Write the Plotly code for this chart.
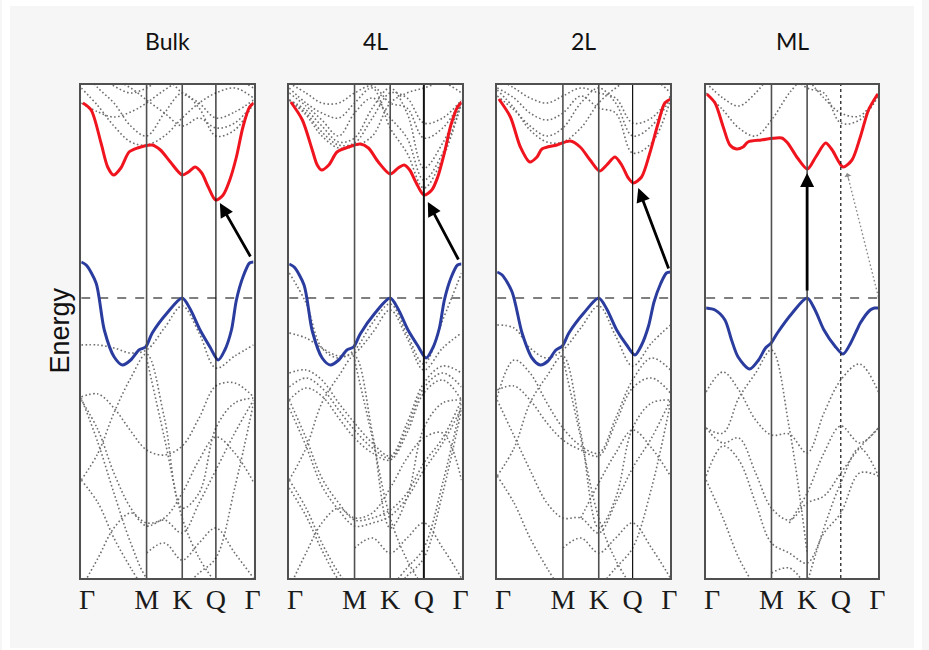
import plotly.graph_objects as go

# ---------------- data ----------------
PANEL_TITLES = ["Bulk", "4L", "2L", "ML"]
K_TICKS = [0.0, 0.66, 1.02, 1.36, 1.74]
K_TICKTEXT = ["Γ", "M", "K", "Q", "Γ"]
K_GRID = [0.0, 0.17, 0.33, 0.5, 0.66, 0.84, 1.02, 1.19, 1.36, 1.55, 1.74]
E_RANGE = [-2.80, 2.13]

# lowest conduction band (red)
BULK_CB_K = [0.017, 0.10, 0.20, 0.267, 0.327, 0.40, 0.483, 0.567, 0.717, 0.80, 0.90, 1.02, 1.083, 1.15, 1.217, 1.283, 1.357, 1.433, 1.50, 1.567, 1.633, 1.70, 1.743]
BULK_CB_E = [1.95, 1.88, 1.55, 1.31, 1.23, 1.30, 1.46, 1.50, 1.53, 1.48, 1.36, 1.23, 1.26, 1.31, 1.25, 1.11, 0.98, 1.03, 1.18, 1.41, 1.71, 1.91, 1.95]
FOURL_CB_K = [0.017, 0.133, 0.233, 0.283, 0.327, 0.40, 0.483, 0.60, 0.717, 0.80, 0.90, 1.02, 1.10, 1.16, 1.217, 1.283, 1.36, 1.44, 1.50, 1.567, 1.633, 1.70, 1.743]
FOURL_CB_E = [1.96, 1.78, 1.48, 1.33, 1.28, 1.33, 1.46, 1.51, 1.54, 1.50, 1.36, 1.24, 1.30, 1.33, 1.28, 1.15, 1.03, 1.08, 1.21, 1.45, 1.73, 1.91, 1.96]
TWOL_CB_K = [0.017, 0.133, 0.233, 0.327, 0.40, 0.45, 0.60, 0.733, 0.833, 0.933, 1.027, 1.10, 1.183, 1.25, 1.317, 1.367, 1.45, 1.533, 1.617, 1.683, 1.743]
TWOL_CB_E = [1.99, 1.81, 1.51, 1.36, 1.41, 1.49, 1.53, 1.57, 1.51, 1.38, 1.27, 1.33, 1.41, 1.33, 1.20, 1.15, 1.21, 1.45, 1.75, 1.95, 1.99]
ML_CB_K = [0.007, 0.09, 0.173, 0.24, 0.307, 0.373, 0.423, 0.557, 0.763, 0.823, 0.923, 1.023, 1.107, 1.207, 1.273, 1.383, 1.473, 1.557, 1.64, 1.733]
ML_CB_E = [2.04, 1.95, 1.71, 1.53, 1.49, 1.51, 1.56, 1.58, 1.60, 1.55, 1.40, 1.29, 1.41, 1.55, 1.48, 1.31, 1.38, 1.61, 1.88, 2.04]

# highest valence band (blue)
BULK_VB_K = [0.0, 0.05, 0.15, 0.233, 0.333, 0.417, 0.50, 0.583, 0.65, 0.717, 0.867, 1.02, 1.10, 1.20, 1.30, 1.383, 1.45, 1.517, 1.567, 1.633, 1.70, 1.74]
BULK_VB_E = [0.36, 0.33, 0.15, -0.32, -0.59, -0.67, -0.62, -0.52, -0.49, -0.35, -0.15, 0.0, -0.11, -0.32, -0.49, -0.62, -0.52, -0.32, -0.02, 0.21, 0.35, 0.36]
FOURL_VB_K = [0.0, 0.05, 0.15, 0.233, 0.333, 0.417, 0.50, 0.583, 0.65, 0.717, 0.867, 1.02, 1.10, 1.20, 1.30, 1.383, 1.45, 1.517, 1.567, 1.633, 1.70, 1.74]
FOURL_VB_E = [0.34, 0.31, 0.13, -0.33, -0.60, -0.67, -0.62, -0.52, -0.49, -0.36, -0.15, 0.0, -0.11, -0.32, -0.48, -0.60, -0.50, -0.30, -0.02, 0.20, 0.33, 0.34]
TWOL_VB_K = [0.0, 0.05, 0.15, 0.25, 0.35, 0.433, 0.51, 0.59, 0.655, 0.72, 0.87, 1.02, 1.10, 1.20, 1.30, 1.383, 1.45, 1.52, 1.575, 1.64, 1.70, 1.74]
TWOL_VB_E = [0.26, 0.23, 0.06, -0.35, -0.60, -0.67, -0.63, -0.52, -0.48, -0.35, -0.15, 0.0, -0.11, -0.32, -0.47, -0.57, -0.47, -0.28, -0.04, 0.14, 0.25, 0.26]
ML_VB_K = [0.0, 0.09, 0.19, 0.257, 0.323, 0.44, 0.53, 0.60, 0.657, 0.72, 0.87, 1.02, 1.10, 1.19, 1.30, 1.383, 1.46, 1.523, 1.557, 1.657, 1.70, 1.74]
ML_VB_E = [-0.10, -0.12, -0.22, -0.42, -0.59, -0.71, -0.62, -0.50, -0.45, -0.35, -0.15, 0.0, -0.12, -0.32, -0.48, -0.56, -0.45, -0.32, -0.25, -0.12, -0.10, -0.10]

# other bands (gray dotted), energies on K_GRID
BULK_GRAY_CB = [
    [2.10, 1.92, 1.72, 1.56, 1.53, 1.62, 1.80, 1.95, 2.05, 2.10, 2.00],
    [1.95, 1.86, 1.81, 1.86, 1.95, 2.08, 2.18, 2.20, 2.25, 2.20, 2.10],
    [2.30, 2.10, 1.95, 1.72, 1.62, 1.85, 2.05, 1.90, 1.62, 1.68, 1.95],
    [2.20, 2.20, 2.18, 2.10, 1.98, 1.85, 1.72, 1.80, 1.70, 1.75, 1.95],
    [2.30, 2.22, 2.12, 2.05, 2.10, 2.20, 2.05, 1.95, 1.80, 1.86, 1.98],
]
BULK_GRAY_VB = [
    [-0.47, -0.47, -0.50, -0.55, -0.52, -0.30, -0.08, -0.35, -0.70, -0.58, -0.47],
    [-0.99, -0.96, -1.10, -1.33, -1.52, -1.57, -1.48, -1.20, -0.88, -0.85, -0.99],
    [-1.82, -1.55, -1.15, -0.80, -0.56, -1.20, -2.10, -1.95, -1.30, -1.05, -1.00],
    [-1.02, -1.32, -1.75, -2.10, -2.28, -2.22, -2.35, -2.05, -1.72, -1.35, -1.02],
    [-1.82, -2.05, -2.40, -2.70, -2.95, None, None, None, None, None, None],
    [-2.90, -2.60, -2.30, -2.15, -2.25, -2.20, -1.95, -1.62, -1.39, -1.55, -1.84],
    [None, None, None, None, None, None, -2.90, -2.75, -2.60, -1.90, -1.05],
    [-1.00, -1.45, -1.95, -2.45, -2.80, -2.95, None, None, None, None, None],
    [None, None, None, None, -2.55, -2.45, -2.62, -2.45, -2.30, -2.55, -2.80],
    [None, None, None, None, -0.60, -1.40, -2.20, -2.60, -2.85, None, None],
]
FOURL_GRAY_CB = [
    [1.98, 1.83, 1.62, 1.50, 1.52, 1.62, 1.95, 2.05, 2.10, 2.15, 2.05],
    [1.98, 1.85, 1.66, 1.53, 1.55, 1.80, 2.05, 2.00, 1.75, 1.80, 1.98],
    [1.98, 1.88, 1.72, 1.56, 1.60, 1.90, 2.10, 1.85, 1.30, 1.55, 1.96],
    [2.05, 1.92, 1.78, 1.62, 1.85, 2.00, 1.80, 1.60, 1.18, 1.45, 1.95],
    [2.10, 1.95, 1.85, 1.80, 1.95, 2.10, 1.70, 1.45, 1.10, 1.40, 1.95],
    [2.15, 2.05, 1.95, 1.95, 2.05, 2.12, 1.95, 1.90, 1.60, 1.70, 1.98],
]
FOURL_GRAY_VB = [
    [0.25, -0.05, -0.50, -0.60, -0.52, -0.25, -0.06, -0.36, -0.66, -0.22, 0.25],
    [-0.35, -0.40, -0.50, -0.58, -0.55, -0.35, -0.12, -0.40, -0.72, -0.50, -0.35],
    [-0.75, -0.72, -0.82, -1.05, -1.25, -1.45, -1.58, -1.25, -0.85, -0.68, -0.75],
    [-0.89, -0.80, -0.90, -1.12, -1.32, -1.50, -1.60, -1.30, -0.90, -0.75, -0.89],
    [-1.02, -0.90, -0.98, -1.20, -1.40, -1.55, -1.62, -1.35, -0.95, -0.82, -1.02],
    [-1.82, -1.50, -1.05, -0.78, -0.58, -1.35, -2.30, -2.00, -1.30, -1.05, -1.02],
    [-1.02, -1.40, -1.80, -2.05, -2.22, -2.20, -2.12, -1.95, -1.65, -1.40, -1.02],
    [-1.10, -1.48, -1.88, -2.12, -2.28, -2.25, -2.18, -2.00, -1.72, -1.45, -1.10],
    [-2.90, -2.55, -2.25, -2.10, -2.20, -2.15, -1.90, -1.60, -1.40, -1.35, -1.82],
    [-1.82, -2.10, -2.45, -2.75, -2.95, None, None, None, None, None, None],
    [-1.90, -2.18, -2.52, -2.82, -2.98, None, None, None, None, None, None],
    [None, None, None, None, None, None, -2.90, -2.70, -2.50, -1.85, -1.05],
    [None, None, None, None, None, None, -2.95, -2.78, -2.60, -1.95, -1.12],
    [None, None, None, None, -2.50, -2.40, -2.55, -2.40, -2.25, -2.50, -2.80],
    [None, None, None, None, -0.62, -1.40, -2.20, -2.62, -2.90, None, None],
]
TWOL_GRAY_CB = [
    [2.08, 1.90, 1.68, 1.56, 1.56, 1.70, 1.95, 2.10, 2.20, 2.20, 2.05],
    [2.02, 1.88, 1.72, 1.62, 1.70, 1.95, 2.10, 1.95, 1.62, 1.72, 2.00],
    [2.10, 2.00, 1.85, 1.78, 1.85, 2.02, 1.90, 1.85, 1.45, 1.55, 1.98],
    [2.20, 2.10, 2.00, 1.95, 2.02, 2.10, 2.05, 2.00, 1.75, 1.80, 2.02],
]
TWOL_GRAY_VB = [
    [-0.27, -0.30, -0.50, -0.60, -0.52, -0.30, -0.08, -0.38, -0.68, -0.45, -0.27],
    [-0.99, -0.62, -0.75, -1.05, -1.30, -1.48, -1.55, -1.20, -0.82, -0.60, -0.72],
    [-0.92, -0.88, -1.02, -1.25, -1.42, -1.52, -1.58, -1.25, -0.90, -0.80, -0.95],
    [-1.78, -1.50, -1.05, -0.78, -0.58, -1.35, -2.30, -2.00, -1.30, -1.05, -1.02],
    [-1.02, -1.38, -1.72, -2.05, -2.20, -2.20, -2.35, -2.05, -1.70, -1.40, -1.02],
    [None, None, None, None, None, -2.20, -1.85, -1.55, -1.32, -1.50, -1.78],
    [-1.78, -2.05, -2.40, -2.70, -2.95, None, None, None, None, None, None],
    [None, None, None, None, None, None, -2.90, -2.70, -2.50, -1.90, -1.05],
    [None, None, None, None, -2.50, -2.40, -2.55, -2.40, -2.25, -2.50, -2.80],
    [None, None, None, None, -0.60, -1.40, -2.20, -2.62, -2.90, None, None],
]
ML_GRAY_CB = [
    [2.05, 1.88, 1.70, 1.62, 1.78, 2.05, 2.25, None, None, None, None],
    [2.15, 2.00, 1.92, 2.05, 2.25, None, None, None, None, None, None],
    [None, None, None, None, None, 2.25, 2.10, 2.05, 1.75, 1.78, 2.02],
    [None, None, None, None, None, None, 2.20, 2.00, 1.85, 1.82, 2.05],
]
ML_GRAY_VB = [
    [-0.94, -0.74, -0.92, -1.22, -1.37, -1.36, -1.55, -1.15, -0.82, -0.66, -0.94],
    [-1.30, -1.35, -1.00, -0.75, -0.52, -1.30, -2.55, None, None, None, None],
    [-1.30, -1.45, -1.40, -1.75, -2.10, -2.22, -2.05, -1.98, -1.75, -1.50, -1.30],
    [-1.78, -1.48, -1.62, -2.05, -2.45, -2.55, -2.65, -2.35, -2.15, -1.75, -1.78],
    [None, None, None, None, None, -2.25, -1.95, -1.55, -1.28, -1.45, -1.30],
    [None, None, None, None, None, None, -2.85, -2.30, -1.85, -1.50, -1.78],
    [-1.82, -2.20, -2.60, -2.90, None, None, None, None, None, None, None],
    [None, None, None, None, -2.75, -2.70, -2.90, None, None, None, None],
]

# transitions: (k_from, E_from, k_to, E_to)
BULK_ARROW = [1.717, 0.40, 1.40, 0.95]
FOURL_ARROW = [1.717, 0.37, 1.40, 0.96]
TWOL_ARROW = [1.727, 0.28, 1.417, 1.10]
ML_ARROW = [1.02, 0.06, 1.02, 1.25]
ML_INDIRECT = [1.74, 0.01, 1.423, 1.25]

# ---------------- figure ----------------
W, H = 929, 650
PANEL_PX = [(80, 254), (290, 464), (500, 675), (711, 885)]
TOP_PX, BOT_PX = 85, 578

panels = [
    (BULK_CB_K, BULK_CB_E, BULK_VB_K, BULK_VB_E, BULK_GRAY_CB, BULK_GRAY_VB, BULK_ARROW),
    (FOURL_CB_K, FOURL_CB_E, FOURL_VB_K, FOURL_VB_E, FOURL_GRAY_CB, FOURL_GRAY_VB, FOURL_ARROW),
    (TWOL_CB_K, TWOL_CB_E, TWOL_VB_K, TWOL_VB_E, TWOL_GRAY_CB, TWOL_GRAY_VB, TWOL_ARROW),
    (ML_CB_K, ML_CB_E, ML_VB_K, ML_VB_E, ML_GRAY_CB, ML_GRAY_VB, ML_ARROW),
]

fig = go.Figure()
layout = dict(
    width=W, height=H,
    margin=dict(l=0, r=0, t=0, b=0),
    paper_bgcolor="#f6f6f6",
    plot_bgcolor="#ffffff",
    showlegend=False,
    shapes=[], annotations=[],
)

GRAY = "#6e6e6e"
DOTS = "1.6px,2.4px"
for i, (ck, ce, vk, ve, gcb, gvb, arr) in enumerate(panels):
    n = "" if i == 0 else str(i + 1)
    xa, ya = "x" + n, "y" + n
    x0, x1 = PANEL_PX[i]
    layout["xaxis" + n] = dict(
        domain=[x0 / W, x1 / W], range=[K_TICKS[0], K_TICKS[-1]], anchor=ya,
        showline=True, mirror=True, linecolor="#505050", linewidth=2,
        showgrid=False, zeroline=False, ticks="",
        tickvals=[0.06, 0.66, 1.02, 1.36, 1.73], ticktext=K_TICKTEXT,
        tickfont=dict(family="Liberation Serif", size=28, color="#1a1a1a"),
        ticklabelstandoff=-5,
    )
    layout["yaxis" + n] = dict(
        domain=[1 - BOT_PX / H, 1 - TOP_PX / H], range=E_RANGE, anchor=xa,
        showline=True, mirror=True, linecolor="#505050", linewidth=2,
        showgrid=False, zeroline=False, showticklabels=False, ticks="",
    )
    # gray bands
    for row in gcb + gvb:
        fig.add_trace(go.Scatter(x=K_GRID, y=row, xaxis=xa, yaxis=ya, mode="lines",
                                 line=dict(color=GRAY, width=1.6, dash=DOTS, shape="spline", smoothing=1.0),
                                 connectgaps=False, hoverinfo="skip"))
    # VBM reference line
    fig.add_trace(go.Scatter(x=[K_TICKS[0], K_TICKS[-1]], y=[0, 0], xaxis=xa, yaxis=ya, mode="lines",
                             line=dict(color="#555555", width=1.6, dash="dash"), hoverinfo="skip"))
    # red and blue
    fig.add_trace(go.Scatter(x=ck, y=ce, xaxis=xa, yaxis=ya, mode="lines",
                             line=dict(color="#f0141e", width=3, shape="spline", smoothing=0.8)))
    fig.add_trace(go.Scatter(x=vk, y=ve, xaxis=xa, yaxis=ya, mode="lines",
                             line=dict(color="#2a3c9e", width=3, shape="spline", smoothing=0.8)))
    # high-symmetry vertical lines
    for j, kv in enumerate(K_TICKS[1:4]):
        style = dict(color="#505050", width=1.6)
        if j == 2:
            if i == 3:
                style = dict(color="#111111", width=1.2, dash="dot")
            elif i == 1:
                style = dict(color="#111111", width=2)
            else:
                style = dict(color="#111111", width=1.2)
        layout["shapes"].append(dict(type="line", xref=xa, yref=ya + " domain", x0=kv, x1=kv, y0=0, y1=1,
                                     line=style, layer="above"))
    # arrow
    layout["annotations"].append(dict(
        x=arr[2], y=arr[3], ax=arr[0], ay=arr[1], xref=xa, yref=ya, axref=xa, ayref=ya,
        showarrow=True, arrowhead=2, arrowsize=1.0, arrowwidth=2.8, arrowcolor="#000000",
        text="", standoff=0, startstandoff=0))
    # title
    layout["annotations"].append(dict(
        x=(x0 + x1) / 2 / W, y=1 - 41 / H, xref="paper", yref="paper", showarrow=False,
        text=PANEL_TITLES[i], font=dict(family="Lato", size=23, color="#111111"),
        xanchor="center", yanchor="middle"))

# ML indirect (gray dotted) arrow
fig.add_trace(go.Scatter(x=[ML_INDIRECT[0], ML_INDIRECT[2]], y=[ML_INDIRECT[1], ML_INDIRECT[3]],
                         xaxis="x4", yaxis="y4", mode="lines",
                         line=dict(color="#8a8a8a", width=1.4, dash=DOTS), hoverinfo="skip"))
layout["annotations"].append(dict(
    x=ML_INDIRECT[2], y=ML_INDIRECT[3], ax=1.445, ay=1.16, xref="x4", yref="y4", axref="x4", ayref="y4",
    showarrow=True, arrowhead=1, arrowsize=1.2, arrowwidth=1.0, arrowcolor="#8a8a8a", text=""))

# y label
layout["annotations"].append(dict(
    x=59 / W, y=1 - 330 / H, xref="paper", yref="paper", showarrow=False, text="Energy",
    textangle=-90, font=dict(family="Liberation Sans", size=27, color="#111111"),
    xanchor="center", yanchor="middle"))

# white outer margin around the slide background
for (a, b, c, d) in [(0, 0, 8, H), (921, 0, W, H), (0, 0, W, 6), (0, 648, W, H)]:
    layout["shapes"].append(dict(type="rect", xref="paper", yref="paper",
                                 x0=a / W, x1=c / W, y0=1 - d / H, y1=1 - b / H,
                                 fillcolor="#ffffff", line=dict(width=0), layer="below"))

fig.update_layout(**layout)
fig.write_html("out.html")
